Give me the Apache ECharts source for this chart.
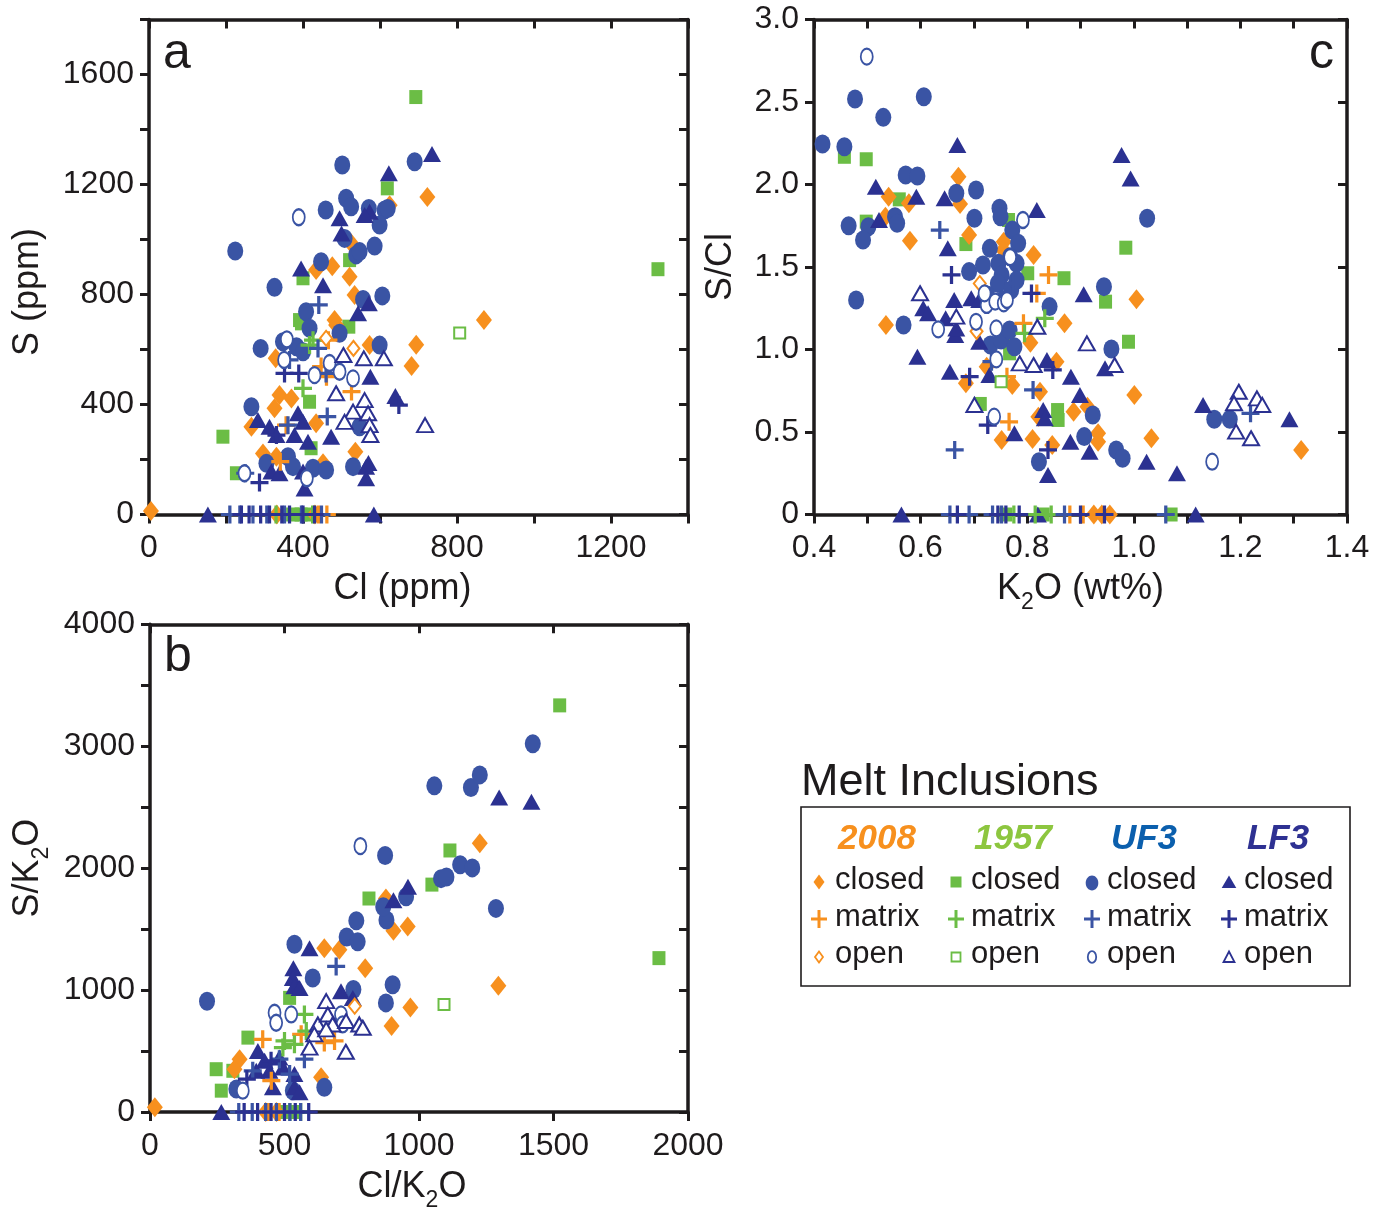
<!DOCTYPE html>
<html>
<head>
<meta charset="utf-8">
<script src="https://cdn.jsdelivr.net/npm/echarts@6/dist/echarts.min.js"></script>
<style>
  html, body { margin: 0; padding: 0; background: #ffffff; }
  #chart { width: 1373px; height: 1213px; }
</style>
</head>
<body>
<div id="chart"></div>
<script>
// ---------- Panel a: S (ppm) vs Cl (ppm) ----------
const a2008Closed = [[5,13],[723,1155],[625,1125],[525,986],[434,889],[476,903],[521,865],[534,798],[482,707],[486,689],[573,616],[694,617],[682,540],[870,707],[339,435],[370,422],[326,386],[434,332],[266,319],[536,228],[296,222],[331,210],[452,186],[329,568],[332,0],[431,0]];
const a2008Matrix = [[466,634],[526,447],[356,325],[341,192],[461,501],[447,538],[440,0],[462,0]];
const a2008Open = [[460,641],[531,604]];
const a1957Closed = [[693,1518],[1322,892],[619,1186],[521,925],[400,859],[391,707],[519,683],[396,695],[417,410],[192,283],[421,241],[227,150],[373,0],[415,0],[395,0]];
const a1957Matrix = [[417,616],[400,459],[426,634],[330,0],[425,0]];
const a1957Open = [[807,660]];
const aUF3Closed = [[502,1271],[690,1283],[512,1150],[525,1119],[459,1107],[571,1113],[612,1107],[620,1113],[599,1053],[508,1004],[224,958],[538,944],[547,956],[586,976],[447,919],[326,826],[606,795],[556,782],[408,737],[417,677],[348,628],[383,610],[400,592],[290,604],[495,659],[599,616],[266,392],[547,319],[305,186],[361,210],[374,174],[426,168],[460,162],[530,174]];
const aUF3Matrix = [[441,762],[365,562],[439,604],[460,513],[463,356],[361,325],[250,150],[210,0],[236,0],[270,0],[306,0],[352,0],[396,0],[448,0]];
const aUF3Open = [[389,1081],[358,637],[495,519],[430,507],[530,495],[410,132],[248,150],[469,551],[351,562]];
const aLF3Closed = [[735,1311],[623,1241],[573,1101],[560,1089],[495,1077],[500,1022],[395,895],[452,834],[571,768],[543,732],[575,501],[640,431],[283,344],[313,319],[331,289],[387,368],[400,337],[378,289],[413,265],[473,283],[318,156],[339,150],[400,156],[564,174],[564,132],[570,187],[404,95],[153,0],[584,0]];
const aLF3Matrix = [[352,513],[389,513],[649,398],[287,116],[331,289],[240,0],[260,0],[290,0],[313,0],[345,0],[365,0],[400,0],[430,0]];
const aLF3Open = [[505,580],[558,568],[610,568],[486,441],[560,416],[717,325],[530,374],[569,368],[508,337],[573,325],[575,289]];

// ---------- Panel c: S/Cl vs K2O (wt%) ----------
const c2008Closed = [[0.671,2.047],[0.540,1.926],[0.578,1.886],[0.674,1.882],[0.534,1.805],[0.580,1.659],[0.691,1.694],[0.756,1.653],[0.755,1.603],[0.812,1.573],[1.005,1.305],[0.535,1.148],[0.870,1.159],[0.806,1.041],[0.724,0.896],[0.685,0.795],[0.772,0.785],[0.855,0.926],[0.824,0.744],[1.001,0.724],[0.821,0.593],[0.887,0.623],[0.913,0.653],[0.752,0.452],[0.810,0.458],[0.847,0.421],[0.933,0.492],[0.933,0.441],[1.033,0.462],[1.314,0.391],[0.925,0],[0.94,0],[0.955,0]];
const c2008Matrix = [[0.840,1.452],[0.818,1.34],[0.793,1.159],[0.762,0.835],[0.766,0.562],[0.88,0],[0.905,0]];
const c2008Open = [[0.711,1.40],[0.705,1.11]];
const c1957Closed = [[0.457,2.168],[0.498,2.153],[0.985,1.617],[0.560,1.910],[0.765,1.785],[0.498,1.775],[0.685,1.639],[0.801,1.462],[0.869,1.432],[0.947,1.29],[0.99,1.047],[0.764,1.047],[0.767,0.977],[0.712,0.67],[0.857,0.633],[0.858,0.573],[0.76,0],[0.83,0],[1.07,0]];
const c1957Matrix = [[0.833,1.189],[0.795,1.098],[0.775,0],[0.815,0],[0.845,0]];
const c1957Open = [[0.751,0.805]];
const cUF3Closed = [[0.477,2.518],[0.606,2.532],[0.530,2.407],[0.416,2.245],[0.457,2.229],[1.025,1.795],[0.572,2.058],[0.594,2.052],[0.704,1.967],[0.667,1.947],[0.748,1.856],[0.750,1.805],[0.701,1.795],[0.465,1.750],[0.502,1.744],[0.492,1.664],[0.552,1.805],[0.556,1.765],[0.730,1.613],[0.772,1.724],[0.783,1.644],[0.768,1.562],[0.780,1.522],[0.691,1.472],[0.717,1.512],[0.746,1.522],[0.752,1.452],[0.745,1.40],[0.770,1.36],[0.755,1.30],[0.780,1.42],[0.725,1.33],[0.842,1.26],[0.944,1.381],[0.479,1.30],[0.568,1.148],[0.731,1.027],[0.751,1.058],[0.776,1.017],[0.767,1.118],[0.958,1.003],[0.923,0.603],[0.822,0.32],[0.907,0.472],[0.967,0.391],[0.979,0.341],[1.151,0.577],[1.18,0.577]];
const cUF3Matrix = [[0.636,1.724],[0.774,1.40],[0.733,0.926],[0.811,0.755],[0.664,0.391],[1.219,0.613],[0.655,0],[0.691,0],[0.735,0],[0.752,0],[0.87,0],[1.06,0]];
const cUF3Open = [[0.499,2.775],[0.792,1.785],[0.768,1.56],[0.633,1.122],[0.704,1.168],[0.724,1.27],[0.74,1.29],[0.756,1.28],[0.742,1.128],[0.762,1.30],[0.72,1.34],[0.742,0.94],[0.738,0.593],[1.147,0.32]];
const cLF3Closed = [[0.669,2.239],[0.977,2.179],[0.994,2.037],[0.516,1.987],[0.592,1.926],[0.645,1.916],[0.818,1.845],[0.522,1.785],[0.651,1.613],[0.906,1.335],[0.605,1.25],[0.614,1.219],[0.647,1.189],[0.665,1.088],[0.667,1.128],[0.663,1.30],[0.695,1.31],[0.71,1.30],[0.594,0.956],[0.655,0.865],[0.71,1.047],[0.729,0.845],[0.837,0.936],[0.882,0.835],[0.899,0.724],[0.946,0.886],[0.83,0.633],[0.833,0.583],[0.776,0.492],[0.839,0.239],[0.881,0.441],[0.917,0.381],[1.024,0.32],[1.081,0.25],[1.13,0.664],[1.292,0.577],[0.564,0],[0.82,0],[1.116,0]];
const cLF3Matrix = [[0.658,1.452],[0.808,1.34],[0.692,0.835],[0.726,0.542],[0.848,0.876],[0.839,0.391],[0.669,0],[0.745,0],[0.76,0],[0.785,0],[0.9,0],[0.945,0]];
const cLF3Open = [[0.599,1.341],[0.667,1.199],[0.819,1.138],[0.786,0.916],[0.812,0.906],[0.701,0.664],[0.912,1.037],[0.964,0.906],[1.197,0.744],[1.192,0.502],[1.188,0.674],[1.231,0.704],[1.241,0.664],[1.22,0.462]];

// ---------- Panel b: S/K2O vs Cl/K2O ----------
const b2008Closed = [[18,39],[648,1343],[704,1330],[905,1487],[958,1522],[800,1178],[968,858],[898,705],[333,433],[314,351],[636,284],[1226,2205],[877,1751],[1295,1036],[430,0],[470,0]];
const b2008Matrix = [[562,637],[419,596],[686,583],[451,257],[648,569],[440,0],[480,0]];
const b2008Open = [[761,868]];
const b1957Closed = [[1523,3335],[1115,2145],[1048,1865],[814,1751],[1892,1262],[519,936],[364,610],[246,351],[308,338],[265,175],[500,0],[540,0]];
const b1957Matrix = [[574,800],[581,664],[500,583],[494,528],[537,555],[520,0],[560,0]];
const b1957Open = [[1093,881]];
const bUF3Closed = [[212,909],[537,1376],[731,1435],[772,1396],[767,1568],[879,1575],[867,1683],[605,1099],[902,1044],[877,895],[756,1004],[648,202],[321,188],[531,175],[1423,3021],[1057,2675],[1193,2662],[1226,2765],[874,2104],[1153,2028],[1198,2002],[1082,1914],[1102,1928],[952,1765],[1286,1670]];
const bUF3Matrix = [[692,1194],[481,433],[574,433],[382,338],[519,311],[330,0],[380,0],[430,0],[470,0],[520,0],[560,0]];
const bUF3Open = [[782,2181],[463,814],[469,732],[525,800],[710,800],[716,718],[345,175]];
const bLF3Closed = [[593,1343],[533,1180],[531,1099],[537,1031],[556,1017],[710,990],[754,936],[1298,2580],[1418,2545],[959,1847],[905,1737],[401,501],[426,420],[481,447],[395,338],[444,338],[494,365],[537,311],[457,202],[537,202],[556,161],[265,0]];
const bLF3Matrix = [[360,270],[450,420],[350,0],[400,0],[450,0],[500,0],[540,0],[590,0]];
const bLF3Open = [[655,909],[624,718],[661,800],[679,718],[729,746],[611,637],[778,718],[791,691],[728,494],[655,678],[593,528]];

// ---------- legend text ----------
const legendTitle = 'Melt Inclusions';
const groupNames = ['2008', '1957', 'UF3', 'LF3'];
const typeNames = ['closed', 'matrix', 'open'];

// ---------- styling ----------
const INK = '#1E1B1C';
const FONT = '"Liberation Sans", Arial, Helvetica, sans-serif';
const COL = { g2008: '#F7901E', g1957: '#6BBD45', uf3: '#3A54A4', lf3: '#2B3191' };
const HEAD_COL = ['#F7901E', '#8DC63F', '#0B5FAD', '#2E3192'];
const CROSS = 'path://M4.1,0h1.8v4.1h4.1v1.8h-4.1v4.1h-1.8v-4.1h-4.1v-1.8h4.1z';

const SHAPES = {
  g2008: { closed: ['diamond', [16, 20]], open: ['diamond', [12, 15]] },
  g1957: { closed: ['rect', [13, 14]], open: ['rect', [11, 11]] },
  uf3:   { closed: ['circle', [16, 19]], open: ['circle', [12, 16]] },
  lf3:   { closed: ['triangle', [18, 16]], open: ['triangle', [16, 14]] }
};

function scatter(panel, data, group, kind) {
  const color = COL[group];
  const s = {
    type: 'scatter', xAxisIndex: panel * 2, yAxisIndex: panel * 2,
    data: data, clip: false, silent: true, animation: false
  };
  if (kind === 'closed') {
    s.symbol = SHAPES[group].closed[0];
    s.symbolSize = SHAPES[group].closed[1];
    s.itemStyle = { color: color, opacity: 1 };
  } else if (kind === 'matrix') {
    s.symbol = CROSS;
    s.symbolSize = 18;
    s.itemStyle = { color: color, opacity: 1 };
  } else {
    s.symbol = SHAPES[group].open[0];
    s.symbolSize = SHAPES[group].open[1];
    s.itemStyle = { color: '#ffffff', borderColor: color, borderWidth: 2, opacity: 1 };
  }
  return s;
}

function panelSeries(p, sets) {
  const order = [
    ['g1957', 'closed'], ['g2008', 'closed'], ['uf3', 'closed'], ['lf3', 'closed'],
    ['g2008', 'matrix'], ['g1957', 'matrix'], ['uf3', 'matrix'], ['lf3', 'matrix'],
    ['g2008', 'open'], ['g1957', 'open'], ['uf3', 'open'], ['lf3', 'open']
  ];
  return order.map(([g, k]) => scatter(p, sets[g][k], g, k));
}

const series = [].concat(
  panelSeries(0, {
    g2008: { closed: a2008Closed, matrix: a2008Matrix, open: a2008Open },
    g1957: { closed: a1957Closed, matrix: a1957Matrix, open: a1957Open },
    uf3:   { closed: aUF3Closed,  matrix: aUF3Matrix,  open: aUF3Open },
    lf3:   { closed: aLF3Closed,  matrix: aLF3Matrix,  open: aLF3Open }
  }),
  panelSeries(1, {
    g2008: { closed: c2008Closed, matrix: c2008Matrix, open: c2008Open },
    g1957: { closed: c1957Closed, matrix: c1957Matrix, open: c1957Open },
    uf3:   { closed: cUF3Closed,  matrix: cUF3Matrix,  open: cUF3Open },
    lf3:   { closed: cLF3Closed,  matrix: cLF3Matrix,  open: cLF3Open }
  }),
  panelSeries(2, {
    g2008: { closed: b2008Closed, matrix: b2008Matrix, open: b2008Open },
    g1957: { closed: b1957Closed, matrix: b1957Matrix, open: b1957Open },
    uf3:   { closed: bUF3Closed,  matrix: bUF3Matrix,  open: bUF3Open },
    lf3:   { closed: bLF3Closed,  matrix: bLF3Matrix,  open: bLF3Open }
  })
);

// ---------- axes ----------
const lineStyle = { color: INK, width: 3.5 };
const tickStyle = { color: INK, width: 3 };
const richName = {
  t: { fontSize: 36, fontFamily: FONT, color: INK, lineHeight: 50 },
  s: { fontSize: 23, fontFamily: FONT, color: INK, lineHeight: 23, verticalAlign: 'bottom' }
};

function mainAxis(dim, grid, min, max, interval, fmt, name, gap, nameStyle) {
  return {
    type: 'value', gridIndex: grid, min: min, max: max, interval: interval,
    position: dim === 'x' ? 'bottom' : 'left',
    axisLine: { show: true, onZero: false, lineStyle: lineStyle },
    axisTick: { show: true, length: 9, lineStyle: tickStyle },
    axisLabel: { formatter: fmt, fontSize: 32, color: INK, fontFamily: FONT, margin: dim === 'x' ? 18 : 15 },
    splitLine: { show: false },
    name: name, nameLocation: 'middle', nameGap: gap,
    nameRotate: dim === 'y' ? 90 : 0,
    nameTextStyle: Object.assign({ fontSize: 36, fontFamily: FONT, color: INK, rich: richName }, nameStyle || {})
  };
}
function mirrorAxis(dim, grid, min, max, interval) {
  return {
    type: 'value', gridIndex: grid, min: min, max: max, interval: interval,
    position: dim === 'x' ? 'top' : 'right',
    axisLine: { show: true, onZero: false, lineStyle: lineStyle },
    axisTick: { show: true, inside: true, length: 9, lineStyle: tickStyle },
    axisLabel: { show: false },
    splitLine: { show: false }
  };
}

const every = (step) => (v) => (Math.abs(v % step) < 1e-9 ? String(v) : '');
const tenthsEven = (v) => (Math.round(v * 10) % 2 === 0 ? v.toFixed(1) : '');
const halfFmt = (v) => (v === 0 ? '0' : v.toFixed(1));

const xAxis = [
  mainAxis('x', 0, 0, 1400, 200, every(400), 'Cl (ppm)', 57, { padding: [0, 32, 0, 0] }),
  mirrorAxis('x', 0, 0, 1400, 200),
  mainAxis('x', 1, 0.4, 1.4, 0.1, tenthsEven, '{t|K}{s|2}{t|O (wt%)}', 50),
  mirrorAxis('x', 1, 0.4, 1.4, 0.1),
  mainAxis('x', 2, 0, 2000, 500, every(500), '{t|Cl/K}{s|2}{t|O}', 50, { padding: [0, 14, 0, 0] }),
  mirrorAxis('x', 2, 0, 2000, 500)
];
const yAxis = [
  mainAxis('y', 0, 0, 1800, 200, every(400), 'S (ppm)', 103, { padding: [0, 50, 0, 0] }),
  mirrorAxis('y', 0, 0, 1800, 200),
  mainAxis('y', 1, 0, 3, 0.5, halfFmt, 'S/Cl', 75),
  mirrorAxis('y', 1, 0, 3, 0.5),
  mainAxis('y', 2, 0, 4000, 500, every(1000), '{t|S/K}{s|2}{t|O}', 97),
  mirrorAxis('y', 2, 0, 4000, 500)
];

const grid = [
  { left: 149, top: 19.5, width: 539, height: 495 },
  { left: 814, top: 19.5, width: 533, height: 495 },
  { left: 150, top: 624.3, width: 538, height: 490.5 }
];

// ---------- panel letters and legend box ----------
function txt(text, x, y, font, fill, align) {
  return {
    type: 'text', silent: true,
    style: { text: text, x: x, y: y, font: font, fill: fill,
             textAlign: align || 'left', textVerticalAlign: 'middle',
             align: align || 'left', verticalAlign: 'middle' }
  };
}
const graphics = [
  txt('a', 163, 54, '50px ' + FONT, INK),
  txt('b', 164, 657, '50px ' + FONT, INK),
  txt('c', 1309, 54, '50px ' + FONT, INK),
  txt(legendTitle, 801, 783, '45px ' + FONT, INK),
  { type: 'rect', silent: true, shape: { x: 801, y: 807, width: 549, height: 179 },
    style: { fill: 'none', stroke: INK, lineWidth: 1.6 } }
];

const headX = [877, 1013, 1144, 1278];
groupNames.forEach((g, i) => graphics.push(txt(g, headX[i], 839, 'italic bold 35px ' + FONT, HEAD_COL[i], 'center')));

const symX = [819, 956, 1092, 1229];
const textX = [835, 971, 1107, 1244];
const rowY = [880, 917, 954];
const symY = [882, 919, 957];
const keys = ['g2008', 'g1957', 'uf3', 'lf3'];
typeNames.forEach((t, r) => textX.forEach(x => graphics.push(txt(t, x, rowY[r], '31px ' + FONT, INK))));

keys.forEach((k, i) => {
  const c = COL[k], x = symX[i];
  // closed glyph
  let y = symY[0];
  if (k === 'g2008') graphics.push({ type: 'polygon', silent: true, shape: { points: [[x, y - 7.5], [x + 5.5, y], [x, y + 7.5], [x - 5.5, y]] }, style: { fill: c } });
  if (k === 'g1957') graphics.push({ type: 'rect', silent: true, shape: { x: x - 5.5, y: y - 5.5, width: 11, height: 11 }, style: { fill: c } });
  if (k === 'uf3') graphics.push({ type: 'ellipse', silent: true, shape: { cx: x, cy: y + 1, rx: 6.3, ry: 7.4 }, style: { fill: c } });
  if (k === 'lf3') graphics.push({ type: 'polygon', silent: true, shape: { points: [[x, y - 6.5], [x + 7.3, y + 6], [x - 7.3, y + 6]] }, style: { fill: c } });
  // matrix glyph
  y = symY[1];
  graphics.push({ type: 'line', silent: true, shape: { x1: x - 8, y1: y, x2: x + 8, y2: y }, style: { stroke: c, lineWidth: 3 } });
  graphics.push({ type: 'line', silent: true, shape: { x1: x, y1: y - 9, x2: x, y2: y + 9 }, style: { stroke: c, lineWidth: 3 } });
  // open glyph
  y = symY[2];
  const os = { fill: '#ffffff', stroke: c, lineWidth: 1.8 };
  if (k === 'g2008') graphics.push({ type: 'polygon', silent: true, shape: { points: [[x, y - 5.5], [x + 4, y], [x, y + 5.5], [x - 4, y]] }, style: os });
  if (k === 'g1957') graphics.push({ type: 'rect', silent: true, shape: { x: x - 4.5, y: y - 4.5, width: 9, height: 9 }, style: os });
  if (k === 'uf3') graphics.push({ type: 'ellipse', silent: true, shape: { cx: x, cy: y, rx: 4.2, ry: 5.8 }, style: os });
  if (k === 'lf3') graphics.push({ type: 'polygon', silent: true, shape: { points: [[x, y - 5.5], [x + 5.5, y + 5], [x - 5.5, y + 5]] }, style: os });
});

const chart = echarts.init(document.getElementById('chart'), null, { renderer: 'canvas' });
chart.setOption({
  backgroundColor: '#ffffff',
  animation: false,
  grid: grid,
  xAxis: xAxis,
  yAxis: yAxis,
  series: series,
  graphic: { elements: graphics }
});
</script>
</body>
</html>
